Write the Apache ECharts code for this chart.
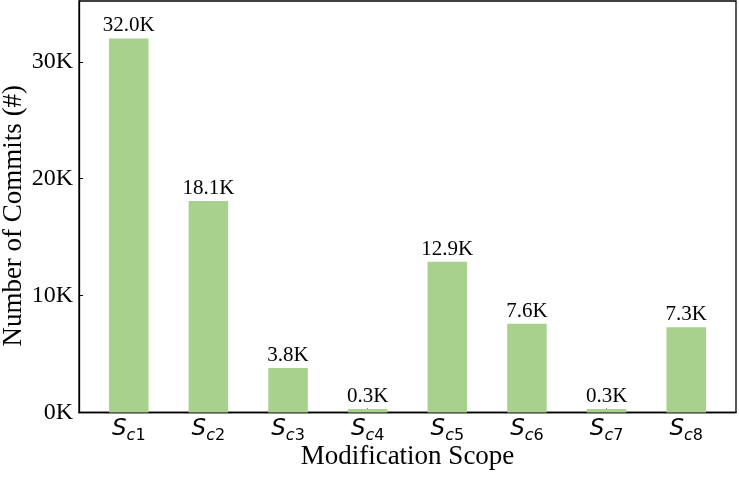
<!DOCTYPE html>
<html>
<head>
<meta charset="utf-8">
<script src="https://cdn.jsdelivr.net/npm/echarts@6/dist/echarts.min.js"></script>
<style>html,body{margin:0;padding:0;background:#fff;}#c{width:739px;height:478px;}</style>
</head>
<body>
<div id="c"></div>
<script>
const categories = ['1', '2', '3', '4', '5', '6', '7', '8'];
const values = [32000, 18100, 3800, 300, 12900, 7600, 300, 7300];
const yTicks = [0, 10000, 20000, 30000];
const yMax = 35200;

const positions = categories.map((c, i) => i);
const chart = echarts.init(document.getElementById('c'), null, {renderer: 'canvas'});
const serif = 'Liberation Serif';
chart.setOption({
  animation: false,
  grid: {left: 79, right: 3, top: 1, bottom: 65.5, containLabel: false, outerBoundsMode: 'none',
    show: true, borderColor: '#000', borderWidth: 1.3, backgroundColor: 'transparent'},
  xAxis: {
    type: 'value', min: -0.625, max: 7.625,
    name: 'Modification Scope', nameLocation: 'middle', nameGap: 31, nameMoveOverlap: false,
    nameTextStyle: {fontFamily: serif, fontSize: 27, color: '#000'},
    axisLine: {show: true, onZero: false, lineStyle: {color: '#000', width: 1.3}},
    axisTick: {show: true, inside: true, length: 4, customValues: positions, lineStyle: {color: '#000', width: 1}},
    splitLine: {show: false},
    axisLabel: {
      customValues: positions, margin: 7, color: '#000',
      formatter: v => '{s|S}{c|c}{n|' + categories[Math.round(v)] + '}',
      rich: {
        s: {fontFamily: 'DejaVu Sans', fontStyle: 'italic', fontSize: 23, lineHeight: 24, verticalAlign: 'bottom', padding: [0, 0, 3, 0], color: '#000'},
        c: {fontFamily: 'DejaVu Sans', fontStyle: 'italic', fontSize: 16, lineHeight: 17, verticalAlign: 'bottom', color: '#000'},
        n: {fontFamily: 'DejaVu Sans', fontSize: 16, lineHeight: 17, verticalAlign: 'bottom', color: '#000'}
      }
    }
  },
  yAxis: {
    type: 'value', min: 0, max: yMax,
    name: 'Number of Commits (#)', nameLocation: 'middle', nameGap: 52, nameMoveOverlap: false,
    nameTextStyle: {fontFamily: serif, fontSize: 27, color: '#000', padding: [0, 18, 0, 0]},
    axisLine: {show: true, onZero: false, lineStyle: {color: '#000', width: 1.3}},
    axisTick: {show: true, inside: true, length: 4, customValues: yTicks, lineStyle: {color: '#000', width: 1}},
    splitLine: {show: false},
    axisLabel: {customValues: yTicks, margin: 6, fontFamily: serif, fontSize: 24, color: '#000',
      formatter: v => (v / 1000) + 'K'}
  },
  series: [{
    type: 'bar',
    data: values.map((v, i) => [positions[i], v]),
    barWidth: 39.5,
    itemStyle: {color: '#a9d18e'},
    label: {show: true, position: 'top', distance: 2, fontFamily: serif, fontSize: 21, color: '#000',
      formatter: p => (p.value[1] / 1000).toFixed(1) + 'K'}
  }]
});
</script>
</body>
</html>
